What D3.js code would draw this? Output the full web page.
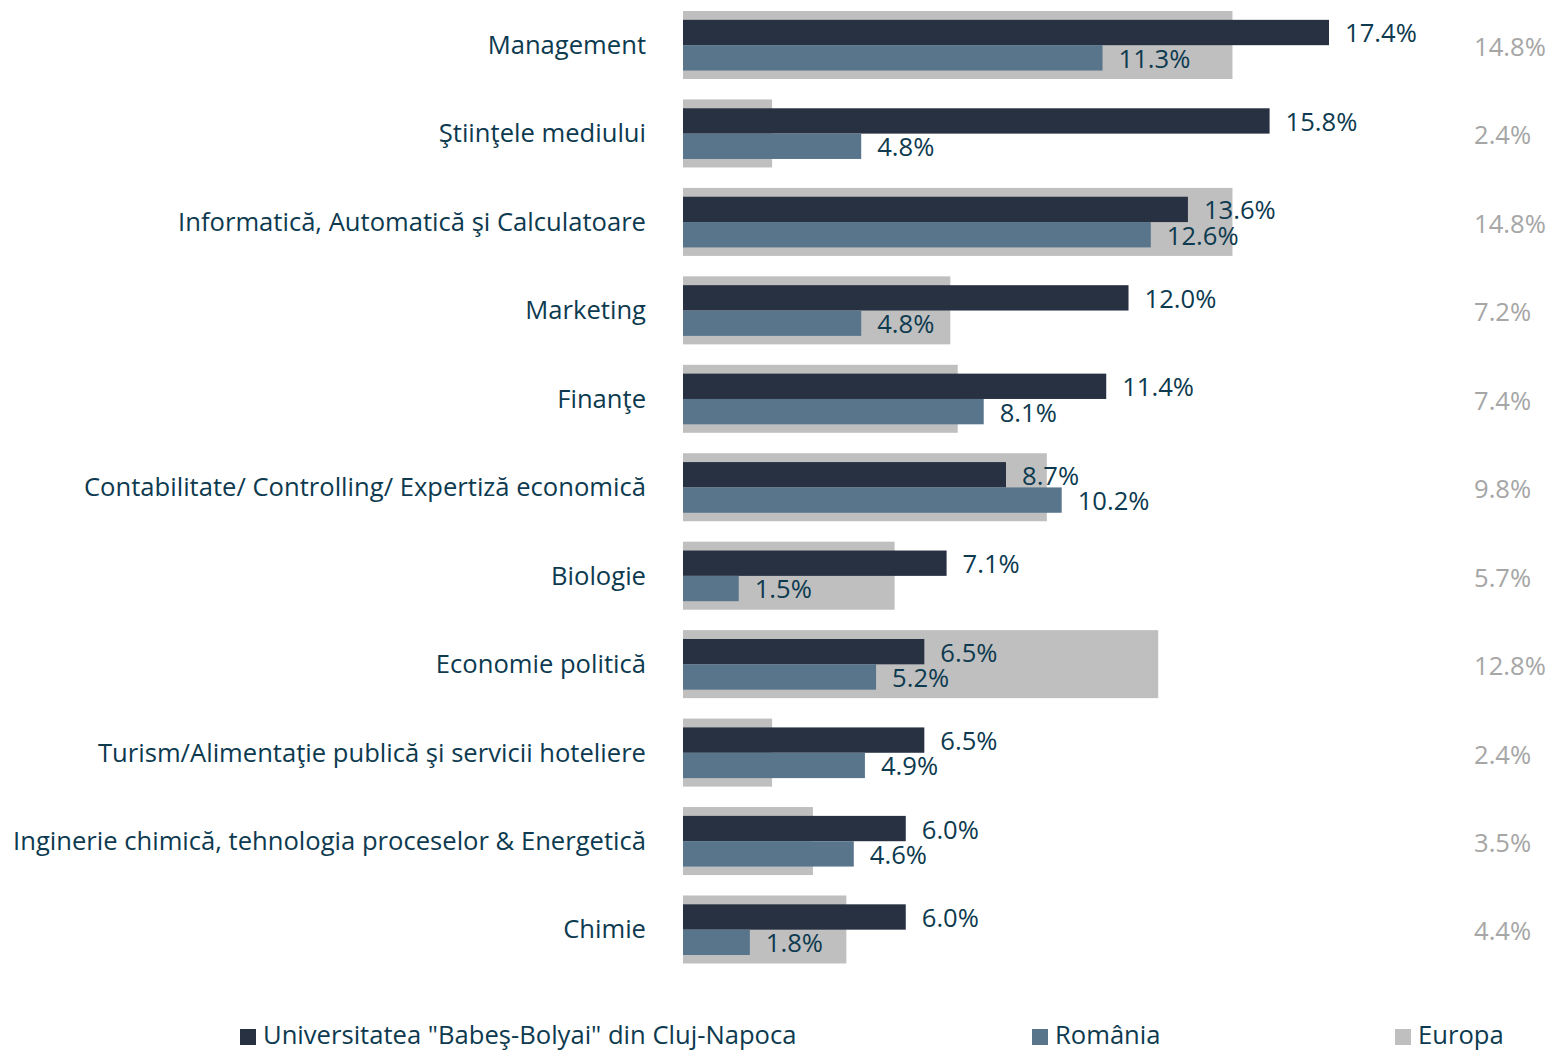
<!DOCTYPE html>
<html>
<head>
<meta charset="utf-8">
<script src="https://cdn.jsdelivr.net/npm/d3@7"></script>
<style>
  body { margin: 0; background: #fff; }
  svg text { font-family: "Open Sans", "Noto Sans", sans-serif; }
</style>
</head>
<body>
<div id="chart"></div>
<script>
const categories = [
  'Management',
  'Ştiinţele mediului',
  'Informatică, Automatică şi Calculatoare',
  'Marketing',
  'Finanţe',
  'Contabilitate/ Controlling/ Expertiză economică',
  'Biologie',
  'Economie politică',
  'Turism/Alimentaţie publică şi servicii hoteliere',
  'Inginerie chimică, tehnologia proceselor & Energetică',
  'Chimie'
];
const ubbValues = [17.4, 15.8, 13.6, 12.0, 11.4, 8.7, 7.1, 6.5, 6.5, 6.0, 6.0];
const romaniaValues = [11.3, 4.8, 12.6, 4.8, 8.1, 10.2, 1.5, 5.2, 4.9, 4.6, 1.8];
const europaValues = [14.8, 2.4, 14.8, 7.2, 7.4, 9.8, 5.7, 12.8, 2.4, 3.5, 4.4];
const seriesNames = ['Universitatea "Babeş-Bolyai" din Cluj-Napoca', 'România', 'Europa'];

const colors = { ubb: '#283142', ro: '#58758c', eu: '#bfbfbf' };
const textColor = '#0d3a4f';
const euTextColor = '#a6a6a6';
const fontSize = 25.6;

const width = 1550, height = 1051;
const svg = d3.select('#chart').append('svg')
  .attr('width', width)
  .attr('height', height);

const x = d3.scaleLinear().domain([0, 17.4]).range([683, 1329]);
const y = d3.scaleBand().domain(categories).range([11, 963.5]).paddingInner(0.231).paddingOuter(0);
const sub = d3.scaleBand().domain(['ubb', 'ro']).range([y.bandwidth() * 0.13, y.bandwidth() * 0.875]);

const rows = categories.map((c, i) => ({
  cat: c, ubb: ubbValues[i], ro: romaniaValues[i], eu: europaValues[i]
}));

const row = svg.append('g').selectAll('g.row')
  .data(rows)
  .join('g')
  .attr('class', 'row')
  .attr('transform', d => `translate(0, ${y(d.cat)})`);

row.append('rect')
  .attr('x', x(0))
  .attr('y', 0)
  .attr('width', d => x(d.eu) - x(0))
  .attr('height', y.bandwidth())
  .attr('fill', colors.eu);

['ubb', 'ro'].forEach(k => {
  row.append('rect')
    .attr('x', x(0))
    .attr('y', sub(k))
    .attr('width', d => x(d[k]) - x(0))
    .attr('height', sub.bandwidth())
    .attr('fill', colors[k]);

  row.append('text')
    .attr('x', d => x(d[k]) + 16)
    .attr('y', sub(k) + sub.bandwidth() / 2 + 1)
    .attr('dy', '0.35em')
    .attr('font-size', fontSize)
    .attr('fill', textColor)
    .text(d => d[k].toFixed(1) + '%');
});

// category labels
row.append('text')
  .attr('x', 646)
  .attr('y', y.bandwidth() / 2)
  .attr('dy', '0.35em')
  .attr('text-anchor', 'end')
  .attr('font-size', fontSize)
  .attr('fill', textColor)
  .text(d => d.cat);

// europe values on the right
row.append('text')
  .attr('x', 1474)
  .attr('y', y.bandwidth() / 2 + 2)
  .attr('dy', '0.35em')
  .attr('font-size', fontSize)
  .attr('fill', euTextColor)
  .text(d => d.eu.toFixed(1) + '%');

// legend
const legendX = [240, 1032, 1395];
const legend = svg.append('g').selectAll('g')
  .data(seriesNames)
  .join('g')
  .attr('transform', (d, i) => `translate(${legendX[i]}, 1035)`);

legend.append('rect')
  .attr('x', 0)
  .attr('y', -6)
  .attr('width', 16)
  .attr('height', 16)
  .attr('fill', (d, i) => [colors.ubb, colors.ro, colors.eu][i]);

legend.append('text')
  .attr('x', 23)
  .attr('y', 0)
  .attr('dy', '0.35em')
  .attr('font-size', fontSize)
  .attr('fill', textColor)
  .text(d => d);
</script>
</body>
</html>
